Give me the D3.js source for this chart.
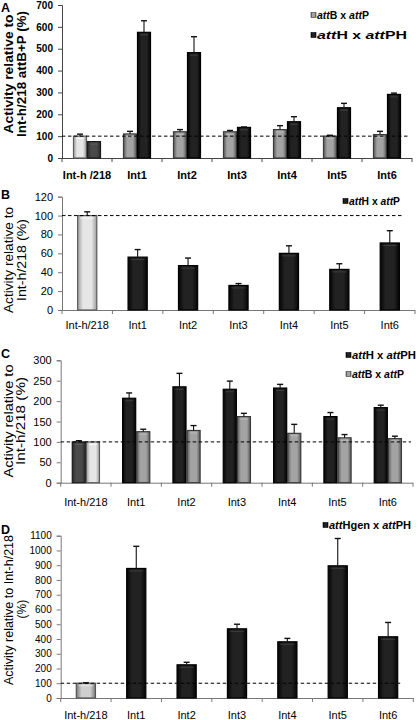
<!DOCTYPE html>
<html><head><meta charset="utf-8">
<script src="https://cdn.jsdelivr.net/npm/d3@7"></script>
<style>body{margin:0;background:#fff}svg{display:block;font-family:"Liberation Sans",Arial,sans-serif}</style>
</head><body>
<script>
// ---------- DATA ----------
const categoriesA = ["Int-h /218","Int1","Int2","Int3","Int4","Int5","Int6"];
const categories = ["Int-h/218","Int1","Int2","Int3","Int4","Int5","Int6"];

// Panel A
const aAttBxAttP    = [100,110,120,120,130,100,107];
const aAttBxAttPErr = [9,12,10,6,18,4,15];
const aAttHxAttPH    = [75,575,482,140,166,230,291];
const aAttHxAttPHErr = [0,53,73,2,23,20,6];
const aTicks = [0,100,200,300,400,500,600,700];

// Panel B
const bAttHxAttP    = [100,56,47,26,60,43,71];
const bAttHxAttPErr = [4,8,8,2,8,6,13];
const bTicks = [0,20,40,60,80,100,120];

// Panel C
const cAttHxAttPH    = [100,207,235,229,232,162,184];
const cAttHxAttPHErr = [3,13,33,20,9,10,6];
const cAttBxAttP     = [100,125,128,162,121,110,108];
const cAttBxAttPErr  = [0,6,12,8,22,8,6];
const cTicks = [0,50,100,150,200,250,300];

// Panel D
const dAttHgenxAttPH    = [100,878,225,469,381,896,415];
const dAttHgenxAttPHErr = [3,150,17,31,23,185,97];
const dTicks = [0,100,200,300,400,500,600,700,800,900,1000,1100];

const refLine = 100;

// ---------- DRAW ----------
const svg = d3.select("body").append("svg").attr("width",418).attr("height",720);
const defs = svg.append("defs");
function grad(id, edge, mid){
  const g = defs.append("linearGradient").attr("id",id).attr("x1","0").attr("x2","1").attr("y1","0").attr("y2","0");
  [[0,edge],[0.28,mid],[0.72,mid],[1,edge]].forEach(([o,c])=>g.append("stop").attr("offset",o).attr("stop-color",c));
}
grad("gGray","#5a5a5a","#a3a3a3");
grad("gBlack","#050505","#222222");
grad("gLight","#9d9d9d","#e6e6e6");
grad("gDark","#2a2a2a","#4a4a4a");
grad("gMid","#7a7a7a","#cfcfcf");

const styles = {
  gray:{fill:"url(#gGray)",stroke:"#3a3a3a",hi:"#c4c4c4"},
  black:{fill:"url(#gBlack)",stroke:"#000",hi:"#4a4a4a"},
  light:{fill:"url(#gLight)",stroke:"#5c5c5c",hi:"#ffffff"},
  dark:{fill:"url(#gDark)",stroke:"#1a1a1a",hi:"#666"},
  mid:{fill:"url(#gMid)",stroke:"#555",hi:"#eee"}
};

function drawPanel(o){
  const g = svg.append("g");
  const x = d3.scaleBand().domain(o.cats).range([o.left,o.right]).paddingInner(o.pad).paddingOuter(o.pad/2);
  const y = d3.scaleLinear().domain([0,d3.max(o.ticks)]).range([o.bottom,o.top]);
  const sub = d3.scaleBand().domain(d3.range(o.series.length)).range([0,x.bandwidth()]);

  const axisColor = o.axisColor;
  const yAx = g.append("g").attr("transform",`translate(${o.left},0)`)
    .call(d3.axisLeft(y).tickValues(o.ticks).tickSize(4).tickPadding(5).tickFormat(d3.format("d")));
  yAx.select(".domain").attr("stroke",axisColor);
  yAx.selectAll(".tick line").attr("stroke",axisColor);
  yAx.selectAll(".tick text").attr("fill","#000").attr("font-size",o.tickFont)
     .attr("font-weight",o.bold?"bold":"normal").attr("font-family",'"Liberation Sans",Arial,sans-serif');

  g.append("line").attr("x1",o.left).attr("x2",o.right).attr("y1",y(0)+0.5).attr("y2",y(0)+0.5).attr("stroke",axisColor);
  const step = x.step();
  const bounds = o.cats.map(c=>x(c)+x.bandwidth()/2-step/2).concat([x(o.cats[o.cats.length-1])+x.bandwidth()/2+step/2]);
  g.selectAll(null).data(bounds).join("line")
    .attr("x1",d=>d).attr("x2",d=>d).attr("y1",y(0)).attr("y2",y(0)+4).attr("stroke",axisColor);
  g.selectAll(null).data(o.cats).join("text")
    .attr("x",c=>x(c)+x.bandwidth()/2).attr("y",o.catY).attr("text-anchor","middle").attr("dominant-baseline","central")
    .attr("font-size",o.catFont).attr("font-weight",o.bold?"bold":"normal").text(c=>c);

  o.series.forEach((s,si)=>{
    const data = s.values.map((v,i)=>({v,e:s.errs[i],c:o.cats[i],i,st:styles[s.style(i)]}));
    const bw = sub.bandwidth();
    g.selectAll(null).data(data).join("rect")
      .attr("x",d=>x(d.c)+sub(si)+0.5).attr("width",bw-1)
      .attr("y",d=>y(d.v)).attr("height",d=>y(0)-y(d.v))
      .attr("fill",d=>d.st.fill).attr("stroke",d=>d.st.stroke).attr("stroke-width",1.2);
    g.selectAll(null).data(data).join("line")
      .attr("x1",d=>x(d.c)+sub(si)+3).attr("x2",d=>x(d.c)+sub(si)+bw-3)
      .attr("y1",d=>y(d.v)+2.5).attr("y2",d=>y(d.v)+2.5)
      .attr("stroke",d=>d.st.hi).attr("stroke-width",1).attr("opacity",0.7);
    const eb = data.filter(d=>d.e>0);
    g.selectAll(null).data(eb).join("line")
      .attr("x1",d=>x(d.c)+sub(si)+bw/2).attr("x2",d=>x(d.c)+sub(si)+bw/2)
      .attr("y1",d=>y(d.v)).attr("y2",d=>y(d.v+d.e)).attr("stroke","#111").attr("stroke-width",1.1);
    g.selectAll(null).data(eb).join("line")
      .attr("x1",d=>x(d.c)+sub(si)+bw/2-3).attr("x2",d=>x(d.c)+sub(si)+bw/2+3)
      .attr("y1",d=>y(d.v+d.e)).attr("y2",d=>y(d.v+d.e)).attr("stroke","#111").attr("stroke-width",1.4);
  });

  g.append("line").attr("x1",o.left).attr("x2",o.dashEnd).attr("y1",y(refLine)).attr("y2",y(refLine))
    .attr("stroke","#000").attr("stroke-width",1).attr("stroke-dasharray","3.5,2.5");

  o.title.forEach(t=>{
    const el = g.append("text").attr("transform",`translate(${t.x},${o.titleY + t.len/2}) rotate(-90)`)
      .attr("text-anchor","start").attr("dominant-baseline","central")
      .attr("font-size",t.size||o.titleFont).attr("font-weight",o.bold?"bold":"normal").text(t.text);
    if(!t.natural) el.attr("textLength",t.len).attr("lengthAdjust","spacingAndGlyphs");
  });

  g.append("text").attr("x",1).attr("y",o.letterY).attr("dominant-baseline","central")
    .attr("font-size",12.5).attr("font-weight","bold").text(o.letter);

  o.legend.forEach(l=>{
    g.append("rect").attr("x",l.x).attr("y",l.y-2.5).attr("width",5).attr("height",5)
      .attr("fill",styles[l.style].fill).attr("stroke",styles[l.style].stroke).attr("stroke-width",0.6);
    const t = g.append("text").attr("x",l.x+6).attr("y",l.y).attr("dominant-baseline","central")
      .attr("font-size",l.size).attr("font-weight","bold")
      .attr("textLength",l.len).attr("lengthAdjust","spacingAndGlyphs");
    l.parts.forEach(([txt,it])=>t.append("tspan").attr("font-style",it?"italic":"normal").text(txt));
  });
}

const isRef = i => i===0;

drawPanel({
  cats:categoriesA, ticks:aTicks, left:62, right:412, bottom:158, top:5, pad:0.44,
  bold:true, tickFont:10, catFont:11, catY:175, axisColor:"#444", dashEnd:408,
  series:[
    {values:aAttBxAttP, errs:aAttBxAttPErr, style:i=>isRef(i)?"light":"gray"},
    {values:aAttHxAttPH, errs:aAttHxAttPHErr, style:i=>isRef(i)?"dark":"black"}
  ],
  titleY:74, titleFont:13,
  title:[{text:"Activity relative to",x:8.5,len:119},{text:"Int-h/218 attB+P (%)",x:21,len:126}],
  letter:"A", letterY:8,
  legend:[
    {x:311,y:15,style:"gray",size:10,len:52,parts:[["att",true],["B x ",false],["att",true],["P",false]]},
    {x:311,y:35,style:"black",size:10,len:90,parts:[["att",true],["H x ",false],["att",true],["PH",false]]}
  ]
});

drawPanel({
  cats:categories, ticks:bTicks, left:62, right:415, bottom:310, top:196.7, pad:0.6,
  bold:false, tickFont:11, catFont:11, catY:325, axisColor:"#777", dashEnd:402,
  series:[
    {values:bAttHxAttP, errs:bAttHxAttPErr, style:i=>isRef(i)?"light":"black"}
  ],
  titleY:260, titleFont:13,
  title:[{text:"Activity relative to",x:8.5,len:106},{text:"Int-h/218 (%)",x:21,len:82}],
  letter:"B", letterY:195,
  legend:[
    {x:343,y:201,style:"black",size:10.5,len:51,parts:[["att",true],["H x ",false],["att",true],["P",false]]}
  ]
});

drawPanel({
  cats:categories, ticks:cTicks, left:60.7, right:413, bottom:482.7, top:360.3, pad:0.44,
  bold:false, tickFont:11, catFont:11, catY:502, axisColor:"#777", dashEnd:411,
  series:[
    {values:cAttHxAttPH, errs:cAttHxAttPHErr, style:i=>isRef(i)?"dark":"black"},
    {values:cAttBxAttP, errs:cAttBxAttPErr, style:i=>isRef(i)?"light":"gray"}
  ],
  titleY:421, titleFont:13,
  title:[{text:"Activity relative to",x:8.5,len:113},{text:"Int-h/218 (%)",x:20.5,len:88}],
  letter:"C", letterY:354,
  legend:[
    {x:346,y:355,style:"black",size:10.5,len:64,parts:[["att",true],["H x ",false],["att",true],["PH",false]]},
    {x:346,y:374,style:"gray",size:10.5,len:52,parts:[["att",true],["B x ",false],["att",true],["P",false]]}
  ]
});

drawPanel({
  cats:categories, ticks:dTicks, left:60.7, right:413.3, bottom:698, top:535.7, pad:0.6,
  bold:false, tickFont:10, catFont:11, catY:715, axisColor:"#777", dashEnd:402,
  series:[
    {values:dAttHgenxAttPH, errs:dAttHgenxAttPHErr, style:i=>isRef(i)?"mid":"black"}
  ],
  titleY:610, titleFont:12.5,
  title:[{text:"Activity relative to Int-h/218",x:8.5,len:150},{text:"(%)",x:22,len:17,size:12,natural:true}],
  letter:"D", letterY:530,
  legend:[
    {x:323,y:525,style:"black",size:10.5,len:82,parts:[["att",true],["Hgen x ",false],["att",true],["PH",false]]}
  ]
});
</script>
</body></html>
